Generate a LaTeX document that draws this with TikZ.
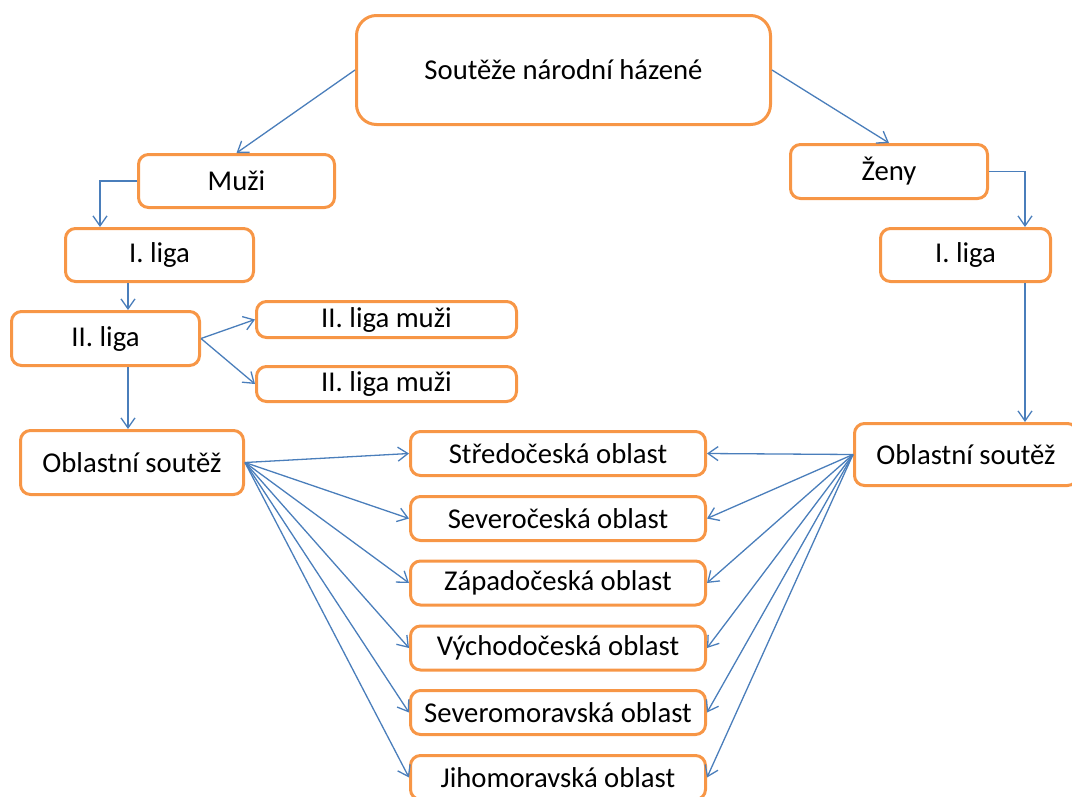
\documentclass[tikz,border=0pt]{standalone}
\usepackage{fontspec}
\setmainfont{Carlito}
\usetikzlibrary{arrows.meta}
\definecolor{boxorange}{HTML}{F79646}
\definecolor{lineblue}{HTML}{4A7EBB}
\begin{document}
\begin{tikzpicture}[x=1pt, y=-1pt, >={Straight Barb[length=10pt,width=14pt]},
    box/.style={draw=boxorange, line width=3pt, rounded corners=10pt, align=center,
        font=\fontsize{28.7pt}{34pt}\selectfont, inner sep=0pt},
    conn/.style={->, draw=lineblue, line width=1.3pt}]
    \useasboundingbox (0,0) rectangle (1072,796);
    \node[box, rounded corners=20pt, minimum width=414pt, minimum height=109pt] (top) at (563.5,70) {Soutěže národní házené};
    \node[box, minimum width=196pt, minimum height=53pt] (muzi) at (236.5,181) {Muži};
    \node[box, minimum width=197pt, minimum height=54pt] (zeny) at (889,171.5) {Ženy};
    \node[box, minimum width=188pt, minimum height=53pt] (ligaM) at (159.5,255) {I. liga};
    \node[box, minimum width=170pt, minimum height=53pt] (ligaZ) at (965.5,255) {I. liga};
    \node[box, minimum width=188pt, minimum height=54pt] (ligaII) at (105.5,338.5) {II. liga};
    \node[box, minimum width=260pt, minimum height=36pt] (muziA) at (386.5,319.5) {II. liga muži};
    \node[box, minimum width=260pt, minimum height=35pt] (muziB) at (386.5,384) {II. liga muži};
    \node[box, minimum width=223pt, minimum height=64pt] (oblM) at (132,462.5) {Oblastní soutěž};
    \node[box, minimum width=223pt, minimum height=62pt] (oblZ) at (966,454.5) {Oblastní soutěž};
    \node[box, minimum width=295pt, minimum height=44pt] (stred) at (558,453.5) {Středočeská oblast};
    \node[box, minimum width=295pt, minimum height=44pt] (sever) at (558,518.5) {Severočeská oblast};
    \node[box, minimum width=295pt, minimum height=44pt] (zapad) at (558,583) {Západočeská oblast};
    \node[box, minimum width=295pt, minimum height=44pt] (vychod) at (558,648) {Východočeská oblast};
    \node[box, minimum width=295pt, minimum height=44pt] (smor) at (558,712.5) {Severomoravská oblast};
    \node[box, minimum width=295pt, minimum height=44pt] (jmor) at (558,777.5) {Jihomoravská oblast};
    \coordinate (xL) at (100,0);
    \coordinate (xM) at (128,0);
    \coordinate (xR) at (1025,0);
    \draw[conn] (top.west) -- (muzi.north);
    \draw[conn] (top.east) -- (zeny.north);
    \draw[conn] (muzi.west) -| (ligaM.north -| xL);
    \draw[conn] (ligaM.south -| xM) -- (ligaII.north -| xM);
    \draw[conn] (ligaII.south -| xM) -- (oblM.north -| xM);
    \draw[conn] (ligaII.east) -- (muziA.west);
    \draw[conn] (ligaII.east) -- (muziB.west);
    \draw[conn] (zeny.east) -| (ligaZ.north -| xR);
    \draw[conn] (ligaZ.south -| xR) -- (oblZ.north -| xR);
    \foreach \r in {stred,sever,zapad,vychod,smor,jmor}{
        \draw[conn] (oblM.east) -- (\r.west);
        \draw[conn] (oblZ.west) -- (\r.east);
    }
\end{tikzpicture}
\end{document}
